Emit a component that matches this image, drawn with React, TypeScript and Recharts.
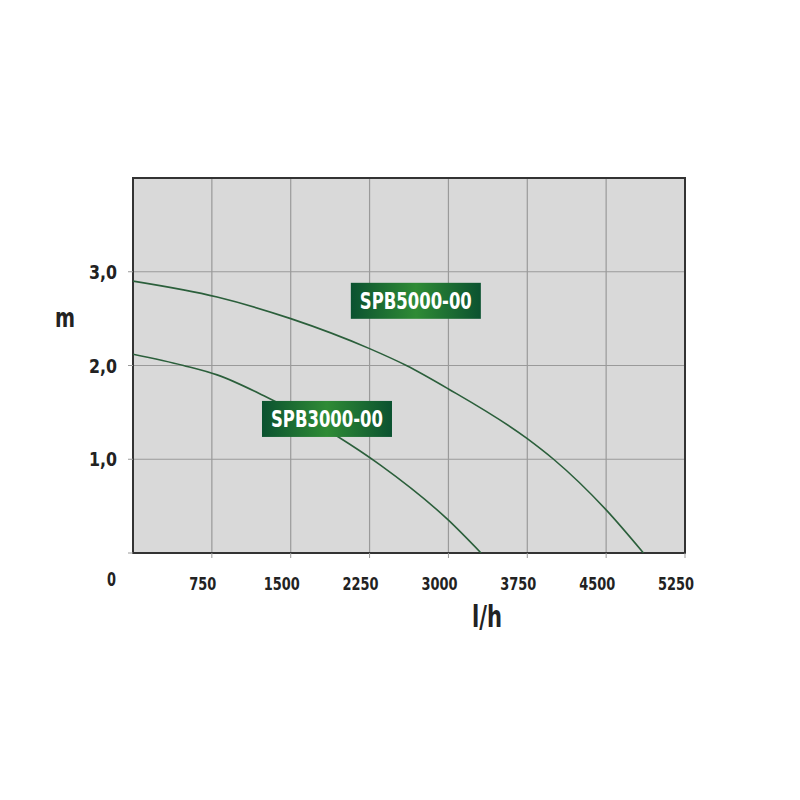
import { LineChart, Line, XAxis, YAxis, CartesianGrid, ReferenceArea, ReferenceDot } from 'recharts';

// l/h on x, m on y
const FLOW_5000 = [0, 800, 1500, 2250, 2600, 3000, 3750, 4000, 4500, 4855];
const HEAD_5000 = [2.9, 2.73, 2.5, 2.18, 2.0, 1.75, 1.22, 1.0, 0.46, 0];
const FLOW_3000 = [0, 480, 800, 1240, 1950, 2350, 3000, 3310];
const HEAD_3000 = [2.12, 2.0, 1.9, 1.68, 1.24, 0.94, 0.35, 0];

const X_TICKS = [750, 1500, 2250, 3000, 3750, 4500, 5250];
const Y_TICKS = [0, 1, 2, 3];
const Y_LABELS = ['0', '1,0', '2,0', '3,0'];

const MODELS = ['SPB5000-00', 'SPB3000-00'];
const MODEL_POS = [
  { x: 2690, y: 2.69 },
  { x: 1845, y: 1.43 },
];

const FONT = "'DejaVu Sans Condensed', 'DejaVu Sans', sans-serif";
const CURVE = '#2b5f3b';
const GRID = '#9a9a9a';
const INK = '#222';

const series5000 = FLOW_5000.map((f, i) => ({ flow: f, head: HEAD_5000[i] }));
const series3000 = FLOW_3000.map((f, i) => ({ flow: f, head: HEAD_3000[i] }));

function XTick({ x, y, payload }: any) {
  const s = String(payload.value);
  return (
    <text
      x={x - 9}
      y={y + 30}
      textAnchor="middle"
      fontFamily={FONT}
      fontWeight={700}
      fontSize={17}
      fill={INK}
      textLength={s.length * 9}
      lengthAdjust="spacingAndGlyphs"
    >
      {s}
    </text>
  );
}

function YTick({ x, y, payload }: any) {
  const idx = Y_TICKS.indexOf(payload.value);
  const isZero = payload.value === 0;
  const s = Y_LABELS[idx];
  return (
    <text
      x={isZero ? x - 10 : x - 9}
      y={isZero ? y + 33 : y + 7}
      textAnchor="end"
      fontFamily={FONT}
      fontWeight={700}
      fontSize={20}
      fill={INK}
      textLength={isZero ? 9 : 28}
      lengthAdjust="spacingAndGlyphs"
    >
      {s}
    </text>
  );
}

function ModelBadge({ cx, cy, text }: any) {
  const w = 130;
  const h = 36;
  return (
    <g>
      <rect x={cx - w / 2} y={cy - h / 2} width={w} height={h} fill="url(#badgeFill)" />
      <text
        x={cx}
        y={cy + 8.5}
        textAnchor="middle"
        fontFamily={FONT}
        fontWeight={700}
        fontSize={23}
        fill="#fff"
        textLength={112}
        lengthAdjust="spacingAndGlyphs"
      >
        {text}
      </text>
    </g>
  );
}

export default function App() {
  return (
    <div style={{ position: 'absolute', left: 0, top: 0, width: 800, height: 800, background: '#fff' }}>
      <LineChart width={800} height={800} margin={{ top: 178, right: 115, bottom: 217, left: 0 }}>
        <defs>
          <linearGradient id="badgeFill" x1="0" y1="0" x2="1" y2="0">
            <stop offset="0%" stopColor="#0b5230" />
            <stop offset="50%" stopColor="#2f8b35" />
            <stop offset="100%" stopColor="#0b5230" />
          </linearGradient>
        </defs>
        <CartesianGrid fill="#d9d9d9" stroke={GRID} strokeWidth={1.2} />
        <XAxis
          type="number"
          dataKey="flow"
          domain={[0, 5250]}
          ticks={X_TICKS}
          height={30}
          axisLine={false}
          tickLine={{ stroke: GRID }}
          tickSize={5}
          tick={<XTick />}
          allowDataOverflow
        />
        <YAxis
          type="number"
          dataKey="head"
          domain={[0, 4]}
          ticks={Y_TICKS}
          width={133}
          axisLine={false}
          tickLine={{ stroke: GRID }}
          tickSize={5}
          tick={<YTick />}
          allowDataOverflow
        />
        <ReferenceArea x1={0} x2={5250} y1={0} y2={4} fill="none" stroke="#333" strokeWidth={2} />
        <Line
          data={series5000}
          dataKey="head"
          type="monotone"
          stroke={CURVE}
          strokeWidth={1.6}
          dot={false}
          isAnimationActive={false}
        />
        <Line
          data={series3000}
          dataKey="head"
          type="monotone"
          stroke={CURVE}
          strokeWidth={1.6}
          dot={false}
          isAnimationActive={false}
        />
        {MODELS.map((m, i) => (
          <ReferenceDot
            key={m}
            x={MODEL_POS[i].x}
            y={MODEL_POS[i].y}
            r={0}
            shape={(p: any) => <ModelBadge cx={p.cx} cy={p.cy} text={m} />}
          />
        ))}
      </LineChart>
      <svg width={800} height={800} style={{ position: 'absolute', left: 0, top: 0, pointerEvents: 'none' }}>
        <text
          x={55}
          y={327}
          fontFamily={FONT}
          fontWeight={700}
          fontSize={27}
          fill={INK}
          textLength={20}
          lengthAdjust="spacingAndGlyphs"
        >
          m
        </text>
        <text
          x={472}
          y={627}
          fontFamily={FONT}
          fontWeight={700}
          fontSize={30}
          fill={INK}
          textLength={30}
          lengthAdjust="spacingAndGlyphs"
        >
          l/h
        </text>
      </svg>
    </div>
  );
}
